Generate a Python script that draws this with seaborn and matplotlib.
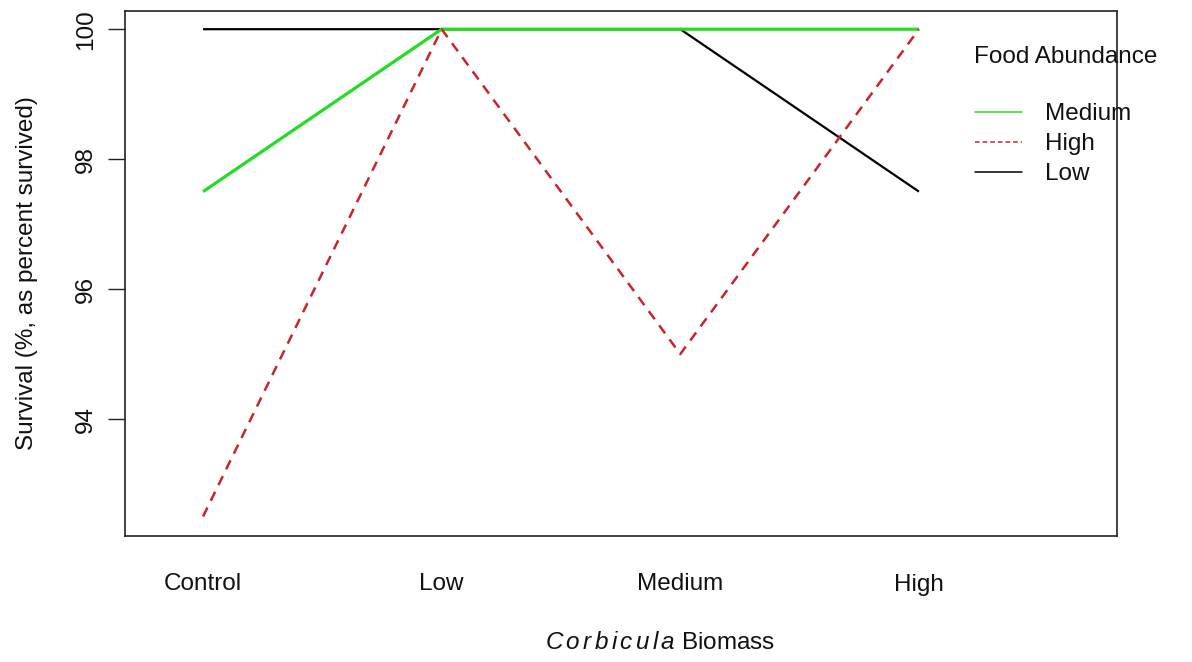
import matplotlib
matplotlib.use("Agg")
import matplotlib.pyplot as plt
import seaborn as sns
import pandas as pd
from matplotlib.lines import Line2D

biomass = ["Control", "Low", "Medium", "High"]
food_levels = ["Medium", "High", "Low"]
survival_medium = [97.5, 100, 100, 100]
survival_high = [92.5, 100, 95, 100]
survival_low = [100, 100, 100, 97.5]
y_ticks = [94, 96, 98, 100]

series = {"Medium": survival_medium, "High": survival_high, "Low": survival_low}
rows = []
for level, vals in series.items():
    for i, (b, v) in enumerate(zip(biomass, vals)):
        rows.append({"Biomass": b, "pos": i + 1, "Food Abundance": level, "Survival": v})
df = pd.DataFrame(rows)

sns.set_theme(style="white")
plt.rcParams["font.family"] = ["Liberation Sans", "DejaVu Sans"]
plt.rcParams["mathtext.fontset"] = "custom"
plt.rcParams["mathtext.it"] = "Liberation Sans:italic"
plt.rcParams["mathtext.rm"] = "Liberation Sans"

FS = 17.5
TXT = "#111111"
colors = {"Medium": "#22dd22", "High": "#c8242a", "Low": "#000000"}
widths = {"Medium": 2.3, "High": 1.8, "Low": 1.6}
styles = {"Medium": "-", "High": (0, (4, 3)), "Low": "-"}
order_z = {"Low": 2, "Medium": 3, "High": 4}

W, H = 1192, 662
fig = plt.figure(figsize=(W / 100, H / 100), dpi=100)
ax = fig.add_axes([125 / W, 1 - 536 / H, (1117 - 125) / W, (536 - 11) / H])

for level in ["Low", "Medium", "High"]:
    sub = df[df["Food Abundance"] == level]
    sns.lineplot(data=sub, x="pos", y="Survival", ax=ax, color=colors[level],
                 linewidth=widths[level], linestyle=styles[level], legend=False,
                 zorder=order_z[level], errorbar=None)
    ax.lines[-1].set_solid_capstyle("butt")

ax.set_xlim(0.673, 4.83)
ax.set_ylim(92.2, 100.28)
ax.set_yticks(y_ticks)
ax.set_yticklabels([str(t) for t in y_ticks], rotation=90, va="center",
                   fontsize=FS, color=TXT)
ax.set_xticks(range(1, 5))
ax.set_xticklabels(biomass, fontsize=FS, color=TXT)
ax.tick_params(axis="x", length=0, pad=27)
ax.tick_params(axis="y", length=12, width=1.0, color="#222222", pad=8, left=True)
for s in ax.spines.values():
    s.set_color("#222222")
    s.set_linewidth(1.2)

ax.set_xlabel("")
ax.set_ylabel("Survival (%, as percent survived)", fontsize=FS, color=TXT, labelpad=27)
fig.text(660 / W, 1 - 643 / H, r"$\it{C\,o\,r\,b\,i\,c\,u\,l\,a}$ Biomass",
         ha="center", va="center", fontsize=FS, color=TXT)

# legend: title placed separately, entries below it
fig.text(974 / W, 1 - 57 / H, "Food Abundance", ha="left", va="center",
         fontsize=FS, color=TXT)
handles = [Line2D([0], [0], color=colors[l], linewidth=1.1,
                  linestyle=(0, (3, 2)) if l == "High" else "-") for l in food_levels]
leg = ax.legend(handles, food_levels, frameon=False, loc="upper left",
                bbox_to_anchor=(975 / W, 1 - 103 / H), bbox_transform=fig.transFigure,
                borderaxespad=0, borderpad=0, fontsize=FS, handlelength=1.95,
                handletextpad=0.95, labelspacing=0.33)
for t in leg.get_texts():
    t.set_color(TXT)

fig.savefig("out.png", dpi=100)
